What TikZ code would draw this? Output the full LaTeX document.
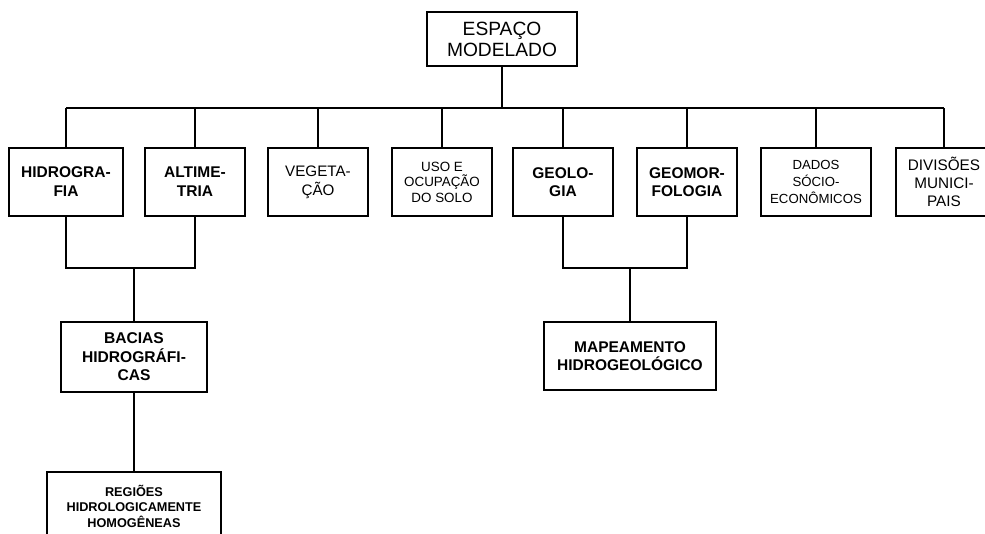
\documentclass[tikz,border=0pt]{standalone}
\usepackage{fontspec}
\setmainfont{Liberation Sans}
\tikzset{
  box/.style={draw, line width=2pt, inner sep=0pt, align=center, minimum height=68pt},
  bigtxt/.style={font=\fontsize{19.2}{21}\selectfont},
  boldtxt/.style={font=\fontsize{15.5}{19}\selectfont\bfseries},
  regtxt/.style={font=\fontsize{15.2}{19}\selectfont},
  smalltxt/.style={font=\fontsize{13.4}{15.5}\selectfont},
  link/.style={line width=2pt},
  trunk/.style={line width=2.8pt}
}
\begin{document}
\begin{tikzpicture}[x=1pt,y=-1pt]
      \useasboundingbox (0,0) rectangle (985,533);
      \clip (0,0) rectangle (985,533);
      \draw
        (502,39) node[box, bigtxt, minimum width=150pt, minimum height=54pt] (esp){ESPAÇO\\MODELADO}
        (66,182) node[box, boldtxt, minimum width=114pt] (hid){HIDROGRA-\\FIA}
        (195,182) node[box, boldtxt, minimum width=100pt] (alt){ALTIME-\\TRIA}
        (318,182) node[box, regtxt, minimum width=100pt] (veg){VEGETA-\\ÇÃO}
        (442,182) node[box, smalltxt, minimum width=100pt] (uso){USO E\\OCUPAÇÃO\\DO SOLO}
        (563,182) node[box, boldtxt, minimum width=100pt, font=\fontsize{15.5}{18}\selectfont\bfseries] (geo){GEOLO-\\GIA}
        (687,182) node[box, boldtxt, minimum width=100pt, font=\fontsize{15.5}{18}\selectfont\bfseries] (gmf){GEOMOR-\\FOLOGIA}
        (816,182) node[box, smalltxt, minimum width=110pt, font=\fontsize{13.2}{16.7}\selectfont] (dad){DADOS\\SÓCIO-\\ECONÔMICOS}
        (944,182) node[box, regtxt, minimum width=96pt, font=\fontsize{15.3}{18}\selectfont] (div){DIVISÕES\\MUNICI-\\PAIS}
        (134,357) node[box, boldtxt, minimum width=146pt, minimum height=70pt, font=\fontsize{15.6}{18.5}\selectfont\bfseries] (bac){BACIAS\\HIDROGRÁFI-\\CAS}
        (630,356) node[box, boldtxt, minimum width=172pt, font=\fontsize{15.5}{17.7}\selectfont\bfseries] (map){MAPEAMENTO\\HIDROGEOLÓGICO}
        (134,506) node[box, boldtxt, minimum width=174pt, font=\fontsize{12.7}{15.5}\selectfont\bfseries] (reg){REGIÕES\\HIDROLOGICAMENTE\\HOMOGÊNEAS};
      \coordinate (top) at (502,108);
      \coordinate (hj) at (134,268);
      \coordinate (gj) at (630,268);
      \begin{scope}[link]
        \draw[trunk] (esp.south) to (top);
        \draw (hid.north |- top) to (div.north |- top);
        \foreach \n in {hid,alt,veg,uso,geo,gmf,dad,div}
          \draw (\n.north) to (\n.north |- top);
        \draw (hid.south) |- (hj) -| (alt.south);
        \draw (hj) to (bac.north);
        \draw (bac.south) to (reg.north);
        \draw (geo.south) |- (gj) -| (gmf.south);
        \draw (gj) to (map.north);
      \end{scope}
    \end{tikzpicture}
\end{document}
